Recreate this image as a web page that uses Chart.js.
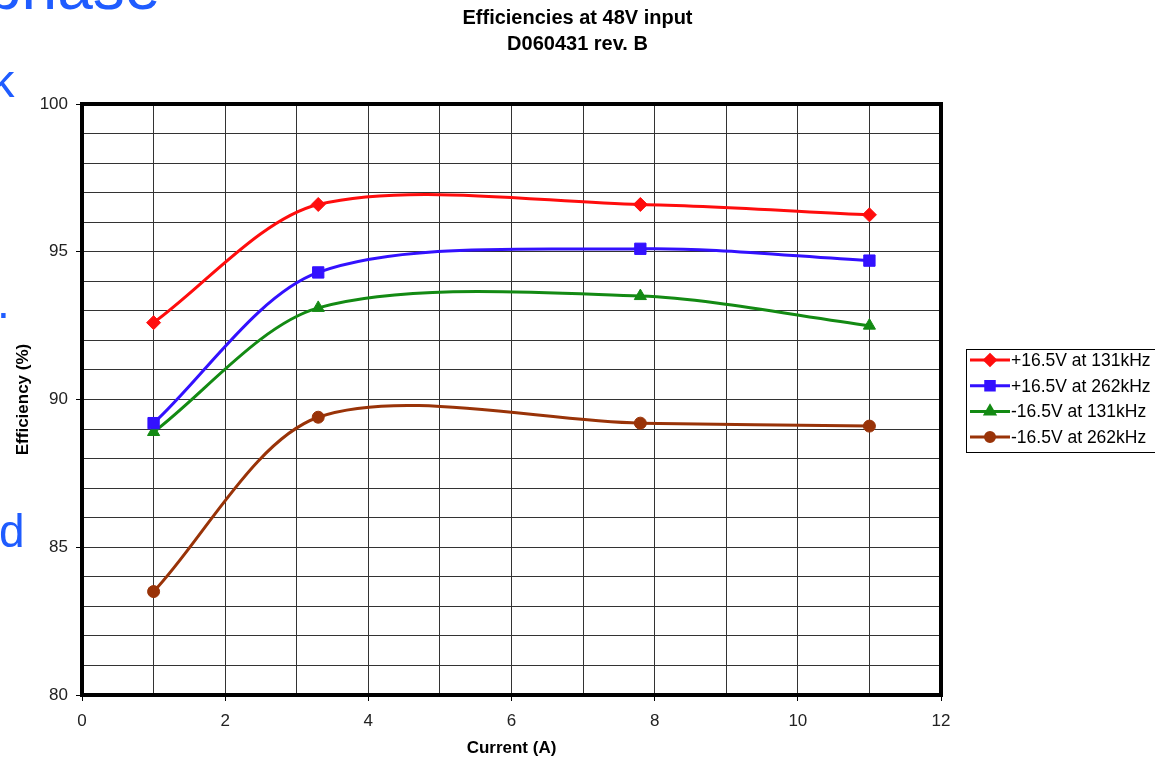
<!DOCTYPE html>
<html>
<head>
<meta charset="utf-8">
<script src="https://cdn.jsdelivr.net/npm/chart.js@4/dist/chart.umd.min.js"></script>
<style>
  html, body { margin: 0; padding: 0; background: #fff; overflow: hidden; }
  #wrap { position: relative; width: 1155px; height: 759px; }
  .slide { position: absolute; color: #1f5cff; font-family: "Liberation Sans", Arial, sans-serif; line-height: 1; white-space: nowrap; }
</style>
</head>
<body>
<div id="wrap">
  <canvas id="myChart"></canvas>
  <span class="slide" style="left:-14px; top:-45px; font-size:64px;">phase</span>
  <span class="slide" style="left:-9px; top:57px; font-size:47px;">k</span>
  <span class="slide" style="left:-3px; top:279px; font-size:46px;">.</span>
  <span class="slide" style="left:-1px; top:508px; font-size:46px;">d</span>
</div>
<script>
// measured points (current in A, efficiency in %)
var currents = [1, 3.3, 7.8, 11];
var pos131 = [92.6, 96.6, 96.6, 96.25];
var pos262 = [89.2, 94.3, 95.1, 94.7];
var neg131 = [88.9, 93.1, 93.5, 92.5];
var neg262 = [83.5, 89.4, 89.2, 89.1];
var seriesLabels = ['+16.5V at 131kHz', '+16.5V at 262kHz', '-16.5V at 131kHz', '-16.5V at 262kHz'];
var titleLines = ['Efficiencies at 48V input', 'D060431 rev. B'];

var fontFam = '"Liberation Sans", Arial, sans-serif';

function pts(vals) {
    return vals.map(function (v, i) { return { x: currents[i], y: v }; });
}

function series(label, vals, color, style, radius) {
    return {
        label: label,
        data: pts(vals),
        borderColor: color,
        backgroundColor: color,
        borderWidth: 3,
        tension: 0.3,
        pointStyle: style,
        pointRadius: radius,
        pointBackgroundColor: color,
        pointBorderColor: color,
        pointBorderWidth: 1
    };
}

// frame round the plot + boxed legend with line-and-marker samples
var framePlugin = {
    id: 'frameAndLegend',
    afterDraw: function (chart) {
        var ctx = chart.ctx;
        var a = chart.chartArea;
        ctx.save();
        ctx.strokeStyle = '#000';
        ctx.lineWidth = 4;
        ctx.strokeRect(a.left, a.top, a.right - a.left, a.bottom - a.top);

        ctx.lineWidth = 1;
        ctx.strokeRect(966.5, 349.5, 250, 103);
        chart.data.datasets.forEach(function (ds, i) {
            var y = 360 + i * 25.7;
            ctx.strokeStyle = ds.borderColor;
            ctx.lineWidth = 3;
            ctx.beginPath();
            ctx.moveTo(970, y);
            ctx.lineTo(1010, y);
            ctx.stroke();
            ctx.fillStyle = ds.borderColor;
            Chart.helpers.drawPoint(ctx, {
                pointStyle: ds.pointStyle,
                radius: ds.pointRadius * 0.75,
                borderWidth: 1,
                rotation: 0
            }, 990, y);
            ctx.fillStyle = '#000';
            ctx.font = '17.5px ' + fontFam;
            ctx.textBaseline = 'middle';
            ctx.textAlign = 'left';
            ctx.fillText(ds.label, 1011, y + 1);
        });
        ctx.restore();
    }
};

var ctx = document.getElementById('myChart').getContext('2d');
var chart = new Chart(ctx, {
    type: 'line',
    data: {
        datasets: [
            series(seriesLabels[0], pos131, '#ff0d0d', 'rectRot', 7),
            series(seriesLabels[1], pos262, '#3311ff', 'rect', 8),
            series(seriesLabels[2], neg131, '#138a13', 'triangle', 7),
            series(seriesLabels[3], neg262, '#993308', 'circle', 6)
        ]
    },
    options: {
        responsive: true,
        maintainAspectRatio: false,
        animation: false,
        layout: { padding: 0 },
        plugins: {
            legend: { display: false },
            tooltip: { enabled: false },
            title: {
                display: true,
                text: titleLines,
                color: '#000',
                font: { family: fontFam, size: 20, weight: 'bold', lineHeight: 1.3 },
                padding: { top: 5, bottom: 47 }
            }
        },
        scales: {
            x: {
                type: 'linear',
                min: 0,
                max: 12,
                grid: {
                    color: '#333',
                    lineWidth: 1,
                    tickLength: 6,
                    tickColor: function (c) { return c.tick && c.tick.value % 2 === 0 ? '#000' : 'rgba(0,0,0,0)'; }
                },
                border: { display: false },
                ticks: {
                    stepSize: 1,
                    autoSkip: false,
                    maxRotation: 0,
                    padding: 10,
                    color: '#222',
                    font: { family: fontFam, size: 17 },
                    callback: function (v) { return v % 2 === 0 ? v : ''; }
                },
                title: {
                    display: true,
                    text: 'Current (A)',
                    color: '#000',
                    font: { family: fontFam, size: 17, weight: 'bold' },
                    padding: { top: 0, bottom: 0 }
                },
                afterFit: function (s) { s.height = 64; }
            },
            y: {
                min: 80,
                max: 100,
                grid: {
                    color: '#333',
                    lineWidth: 1,
                    tickLength: 6,
                    tickColor: function (c) { return c.tick && c.tick.value % 5 === 0 ? '#000' : 'rgba(0,0,0,0)'; }
                },
                border: { display: false },
                ticks: {
                    stepSize: 1,
                    autoSkip: false,
                    padding: 8,
                    color: '#222',
                    font: { family: fontFam, size: 17 },
                    callback: function (v) { return v % 5 === 0 ? v : ''; }
                },
                title: {
                    display: true,
                    text: 'Efficiency (%)',
                    color: '#000',
                    font: { family: fontFam, size: 17, weight: 'bold' },
                    padding: { top: 13, bottom: 0 }
                },
                afterFit: function (s) { s.width = 82; }
            },
            // empty right-hand axis only reserves room for the legend box
            y2: {
                position: 'right',
                display: true,
                grid: { display: false },
                border: { display: false },
                ticks: { display: false },
                afterFit: function (s) { s.width = 214; }
            }
        }
    },
    plugins: [framePlugin]
});
</script>
</body>
</html>
